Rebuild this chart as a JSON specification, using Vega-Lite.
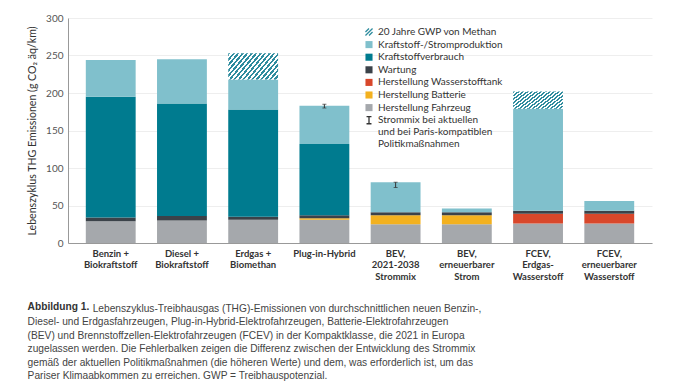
{
  "$schema": "https://vega.github.io/schema/vega-lite/v6.json",
  "width": 584,
  "height": 225,
  "padding": {"left": 27, "top": 13, "right": 5, "bottom": 5},
  "background": "white",
  "config": {"view": {"stroke": null}, "font": "Lato"},
  "title": {
    "text": "Abbildung 1.",
    "subtitle": [
      "\u200b\u00a0\u00a0\u00a0\u00a0\u00a0\u00a0\u00a0\u00a0\u00a0\u00a0\u00a0\u00a0\u00a0\u00a0\u00a0\u00a0\u00a0\u00a0\u00a0\u00a0\u00a0\u00a0\u00a0Lebenszyklus-Treibhausgas (THG)-Emissionen von durchschnittlichen neuen Benzin-,",
      "Diesel- und Erdgasfahrzeugen, Plug-in-Hybrid-Elektrofahrzeugen, Batterie-Elektrofahrzeugen",
      "(BEV) und Brennstoffzellen-Elektrofahrzeugen (FCEV) in der Kompaktklasse, die 2021 in Europa",
      "zugelassen werden. Die Fehlerbalken zeigen die Differenz zwischen der Entwicklung des Strommix",
      "gemäß der aktuellen Politikmaßnahmen (die höheren Werte) und dem, was erforderlich ist, um das",
      "Pariser Klimaabkommen zu erreichen. GWP = Treibhauspotenzial."
    ],
    "orient": "bottom",
    "anchor": "start",
    "frame": "bounds",
    "offset": 21,
    "font": "Liberation Sans",
    "fontSize": 10.2,
    "fontWeight": "bold",
    "color": "#333333",
    "lineHeight": 13.5,
    "subtitleFont": "Liberation Sans",
    "subtitleFontSize": 10.2,
    "subtitleColor": "#444444",
    "subtitleLineHeight": 13.5,
    "subtitlePadding": -8
  },
  "data": {
    "values": [
      {"vehicle": "Benzin +\nBiokraftstoff", "component": "Herstellung Fahrzeug", "value": 29},
      {"vehicle": "Benzin +\nBiokraftstoff", "component": "Wartung", "value": 5},
      {"vehicle": "Benzin +\nBiokraftstoff", "component": "Kraftstoffverbrauch", "value": 161},
      {"vehicle": "Benzin +\nBiokraftstoff", "component": "Kraftstoff-/Stromproduktion", "value": 49},
      {"vehicle": "Diesel +\nBiokraftstoff", "component": "Herstellung Fahrzeug", "value": 30},
      {"vehicle": "Diesel +\nBiokraftstoff", "component": "Wartung", "value": 6},
      {"vehicle": "Diesel +\nBiokraftstoff", "component": "Kraftstoffverbrauch", "value": 150},
      {"vehicle": "Diesel +\nBiokraftstoff", "component": "Kraftstoff-/Stromproduktion", "value": 59},
      {"vehicle": "Erdgas +\nBiomethan", "component": "Herstellung Fahrzeug", "value": 31},
      {"vehicle": "Erdgas +\nBiomethan", "component": "Wartung", "value": 4},
      {"vehicle": "Erdgas +\nBiomethan", "component": "Kraftstoffverbrauch", "value": 143},
      {"vehicle": "Erdgas +\nBiomethan", "component": "Kraftstoff-/Stromproduktion", "value": 40},
      {"vehicle": "Erdgas +\nBiomethan", "component": "20 Jahre GWP von Methan", "value": 35},
      {"vehicle": "Plug-in-Hybrid", "component": "Herstellung Fahrzeug", "value": 31},
      {"vehicle": "Plug-in-Hybrid", "component": "Herstellung Batterie", "value": 2},
      {"vehicle": "Plug-in-Hybrid", "component": "Wartung", "value": 4},
      {"vehicle": "Plug-in-Hybrid", "component": "Kraftstoffverbrauch", "value": 95},
      {"vehicle": "Plug-in-Hybrid", "component": "Kraftstoff-/Stromproduktion", "value": 51},
      {"vehicle": "BEV,\n2021-2038\nStrommix", "component": "Herstellung Fahrzeug", "value": 25},
      {"vehicle": "BEV,\n2021-2038\nStrommix", "component": "Herstellung Batterie", "value": 12},
      {"vehicle": "BEV,\n2021-2038\nStrommix", "component": "Wartung", "value": 4},
      {"vehicle": "BEV,\n2021-2038\nStrommix", "component": "Kraftstoff-/Stromproduktion", "value": 40},
      {"vehicle": "BEV,\nerneuerbarer\nStrom", "component": "Herstellung Fahrzeug", "value": 25},
      {"vehicle": "BEV,\nerneuerbarer\nStrom", "component": "Herstellung Batterie", "value": 12},
      {"vehicle": "BEV,\nerneuerbarer\nStrom", "component": "Wartung", "value": 4},
      {"vehicle": "BEV,\nerneuerbarer\nStrom", "component": "Kraftstoff-/Stromproduktion", "value": 5},
      {"vehicle": "FCEV,\nErdgas-\nWasserstoff", "component": "Herstellung Fahrzeug", "value": 26},
      {"vehicle": "FCEV,\nErdgas-\nWasserstoff", "component": "Herstellung Wasserstofftank", "value": 13},
      {"vehicle": "FCEV,\nErdgas-\nWasserstoff", "component": "Wartung", "value": 4},
      {"vehicle": "FCEV,\nErdgas-\nWasserstoff", "component": "Kraftstoff-/Stromproduktion", "value": 136},
      {"vehicle": "FCEV,\nErdgas-\nWasserstoff", "component": "20 Jahre GWP von Methan", "value": 23},
      {"vehicle": "FCEV,\nerneuerbarer\nWasserstoff", "component": "Herstellung Fahrzeug", "value": 26},
      {"vehicle": "FCEV,\nerneuerbarer\nWasserstoff", "component": "Herstellung Wasserstofftank", "value": 13},
      {"vehicle": "FCEV,\nerneuerbarer\nWasserstoff", "component": "Wartung", "value": 4},
      {"vehicle": "FCEV,\nerneuerbarer\nWasserstoff", "component": "Kraftstoff-/Stromproduktion", "value": 13}
    ]
  },
  "layer": [
    {
      "transform": [
        {"stack": "value", "groupby": ["vehicle"], "as": ["v0", "v1"]},
        {"filter": "datum.component != '20 Jahre GWP von Methan'"}
      ],
      "mark": {"type": "bar"},
      "encoding": {
        "x": {
          "field": "vehicle", "type": "nominal",
          "scale": {
            "domain": ["Benzin +\nBiokraftstoff", "Diesel +\nBiokraftstoff", "Erdgas +\nBiomethan", "Plug-in-Hybrid", "BEV,\n2021-2038\nStrommix", "BEV,\nerneuerbarer\nStrom", "FCEV,\nErdgas-\nWasserstoff", "FCEV,\nerneuerbarer\nWasserstoff"],
            "paddingInner": 0.3, "paddingOuter": 0.25
          },
          "axis": {
            "title": null, "labelAngle": 0, "ticks": false, "domainColor": "#999999",
            "labelExpr": "split(datum.label, '\\n')",
            "labelFont": "Lato", "labelFontSize": 9.5, "labelFontWeight": "bold", "labelColor": "#333333",
            "labelLineHeight": 11.5, "labelPadding": 5
          }
        },
        "y": {
          "field": "v0", "type": "quantitative",
          "scale": {"domain": [0, 300], "nice": false},
          "title": "Lebenszyklus THG Emissionen (g CO₂ äq/km)",
          "axis": {
            "values": [0, 50, 100, 150, 200, 250, 300],
            "ticks": false, "domainColor": "#999999", "gridColor": "#eeeeee", "labelOverlap": false,
            "labelFont": "Lato", "labelFontSize": 10, "labelColor": "#555555", "labelPadding": 5,
            "titleFont": "Lato", "titleFontSize": 10.6, "titleFontWeight": "normal", "titleColor": "#333333", "titlePadding": 8
          }
        },
        "y2": {"field": "v1"},
        "color": {
          "field": "component", "type": "nominal",
          "scale": {
            "domain": ["20 Jahre GWP von Methan", "Kraftstoff-/Stromproduktion", "Kraftstoffverbrauch", "Wartung", "Herstellung Wasserstofftank", "Herstellung Batterie", "Herstellung Fahrzeug", "Strommix bei aktuellen und bei Paris-kompatiblen Politikmaßnahmen"],
            "range": ["#2f8c9e", "#80c0cc", "#007b8f", "#3b4249", "#d8472b", "#f3b11f", "#a5a8ac", "#333333"]
          },
          "legend": {
            "orient": "none", "legendX": 296, "legendY": 9, "title": null, "padding": 0,
            "symbolSize": 50, "labelFont": "Lato", "labelFontSize": 10, "labelColor": "#333333", "rowPadding": -1.4,
            "labelExpr": "indexof(datum.label, 'Strommix') == 0 ? ['Strommix bei aktuellen', 'und bei Paris-kompatiblen', 'Politikmaßnahmen'] : datum.label",
            "encode": {
              "symbols": {
                "update": {
                  "shape": {"signal": "datum.value == '20 Jahre GWP von Methan' ? 'M-1,0L0,-1M-1,1L1,-1M0,1L1,0' : (indexof(datum.value, 'Strommix') == 0 ? 'M-0.7,-1H0.7M0,-1V1M-0.7,1H0.7' : 'square')"},
                  "fill": {"signal": "datum.value == '20 Jahre GWP von Methan' || indexof(datum.value, 'Strommix') == 0 ? 'transparent' : scale('color', datum.value)"},
                  "stroke": {"signal": "datum.value == '20 Jahre GWP von Methan' ? '#2f8c9e' : (indexof(datum.value, 'Strommix') == 0 ? '#333333' : 'transparent')"},
                  "strokeWidth": {"value": 1.3}
                }
              }
            }
          }
        }
      }
    },
    {
      "transform": [
        {"stack": "value", "groupby": ["vehicle"], "as": ["v0", "v1"]},
        {"filter": "datum.component == '20 Jahre GWP von Methan'"}
      ],
      "mark": {
        "type": "bar",
        "color": {
          "gradient": "linear", "x1": 0, "y1": 0, "x2": 1.206, "y2": 0.531,
          "stops": [
            {"offset": 0, "color": "#2f8c9e"}, {"offset": 0.03125, "color": "#2f8c9e"}, {"offset": 0.03125, "color": "#ffffff"}, {"offset": 0.0625, "color": "#ffffff"},
            {"offset": 0.0625, "color": "#2f8c9e"}, {"offset": 0.09375, "color": "#2f8c9e"}, {"offset": 0.09375, "color": "#ffffff"}, {"offset": 0.125, "color": "#ffffff"},
            {"offset": 0.125, "color": "#2f8c9e"}, {"offset": 0.15625, "color": "#2f8c9e"}, {"offset": 0.15625, "color": "#ffffff"}, {"offset": 0.1875, "color": "#ffffff"},
            {"offset": 0.1875, "color": "#2f8c9e"}, {"offset": 0.21875, "color": "#2f8c9e"}, {"offset": 0.21875, "color": "#ffffff"}, {"offset": 0.25, "color": "#ffffff"},
            {"offset": 0.25, "color": "#2f8c9e"}, {"offset": 0.28125, "color": "#2f8c9e"}, {"offset": 0.28125, "color": "#ffffff"}, {"offset": 0.3125, "color": "#ffffff"},
            {"offset": 0.3125, "color": "#2f8c9e"}, {"offset": 0.34375, "color": "#2f8c9e"}, {"offset": 0.34375, "color": "#ffffff"}, {"offset": 0.375, "color": "#ffffff"},
            {"offset": 0.375, "color": "#2f8c9e"}, {"offset": 0.40625, "color": "#2f8c9e"}, {"offset": 0.40625, "color": "#ffffff"}, {"offset": 0.4375, "color": "#ffffff"},
            {"offset": 0.4375, "color": "#2f8c9e"}, {"offset": 0.46875, "color": "#2f8c9e"}, {"offset": 0.46875, "color": "#ffffff"}, {"offset": 0.5, "color": "#ffffff"},
            {"offset": 0.5, "color": "#2f8c9e"}, {"offset": 0.53125, "color": "#2f8c9e"}, {"offset": 0.53125, "color": "#ffffff"}, {"offset": 0.5625, "color": "#ffffff"},
            {"offset": 0.5625, "color": "#2f8c9e"}, {"offset": 0.59375, "color": "#2f8c9e"}, {"offset": 0.59375, "color": "#ffffff"}, {"offset": 0.625, "color": "#ffffff"},
            {"offset": 0.625, "color": "#2f8c9e"}, {"offset": 0.65625, "color": "#2f8c9e"}, {"offset": 0.65625, "color": "#ffffff"}, {"offset": 0.6875, "color": "#ffffff"},
            {"offset": 0.6875, "color": "#2f8c9e"}, {"offset": 0.71875, "color": "#2f8c9e"}, {"offset": 0.71875, "color": "#ffffff"}, {"offset": 0.75, "color": "#ffffff"},
            {"offset": 0.75, "color": "#2f8c9e"}, {"offset": 0.78125, "color": "#2f8c9e"}, {"offset": 0.78125, "color": "#ffffff"}, {"offset": 0.8125, "color": "#ffffff"},
            {"offset": 0.8125, "color": "#2f8c9e"}, {"offset": 0.84375, "color": "#2f8c9e"}, {"offset": 0.84375, "color": "#ffffff"}, {"offset": 0.875, "color": "#ffffff"},
            {"offset": 0.875, "color": "#2f8c9e"}, {"offset": 0.90625, "color": "#2f8c9e"}, {"offset": 0.90625, "color": "#ffffff"}, {"offset": 0.9375, "color": "#ffffff"},
            {"offset": 0.9375, "color": "#2f8c9e"}, {"offset": 0.96875, "color": "#2f8c9e"}, {"offset": 0.96875, "color": "#ffffff"}, {"offset": 1, "color": "#ffffff"}
          ]
        }
      },
      "encoding": {
        "x": {"field": "vehicle", "type": "nominal"},
        "y": {
          "field": "v0", "type": "quantitative",
          "title": "Lebenszyklus THG Emissionen (g CO₂ äq/km)",
          "axis": {
            "values": [0, 50, 100, 150, 200, 250, 300],
            "ticks": false, "domainColor": "#999999", "gridColor": "#eeeeee", "labelOverlap": false,
            "labelFont": "Lato", "labelFontSize": 10, "labelColor": "#555555", "labelPadding": 5,
            "titleFont": "Lato", "titleFontSize": 10.6, "titleFontWeight": "normal", "titleColor": "#333333", "titlePadding": 8
          }
        },
        "y2": {"field": "v1"}
      }
    },
    {
      "data": {
        "values": [
          {"vehicle": "Plug-in-Hybrid", "low": 180, "high": 185},
          {"vehicle": "BEV,\n2021-2038\nStrommix", "low": 74, "high": 81}
        ]
      },
      "mark": {"type": "errorbar", "color": "#333333", "thickness": 1, "ticks": {"size": 4, "color": "#333333"}},
      "encoding": {
        "x": {"field": "vehicle", "type": "nominal"},
        "y": {
          "field": "low", "type": "quantitative",
          "title": "Lebenszyklus THG Emissionen (g CO₂ äq/km)",
          "axis": {
            "values": [0, 50, 100, 150, 200, 250, 300],
            "ticks": false, "domainColor": "#999999", "gridColor": "#eeeeee", "labelOverlap": false,
            "labelFont": "Lato", "labelFontSize": 10, "labelColor": "#555555", "labelPadding": 5,
            "titleFont": "Lato", "titleFontSize": 10.6, "titleFontWeight": "normal", "titleColor": "#333333", "titlePadding": 8
          }
        },
        "y2": {"field": "high"}
      }
    }
  ]
}
